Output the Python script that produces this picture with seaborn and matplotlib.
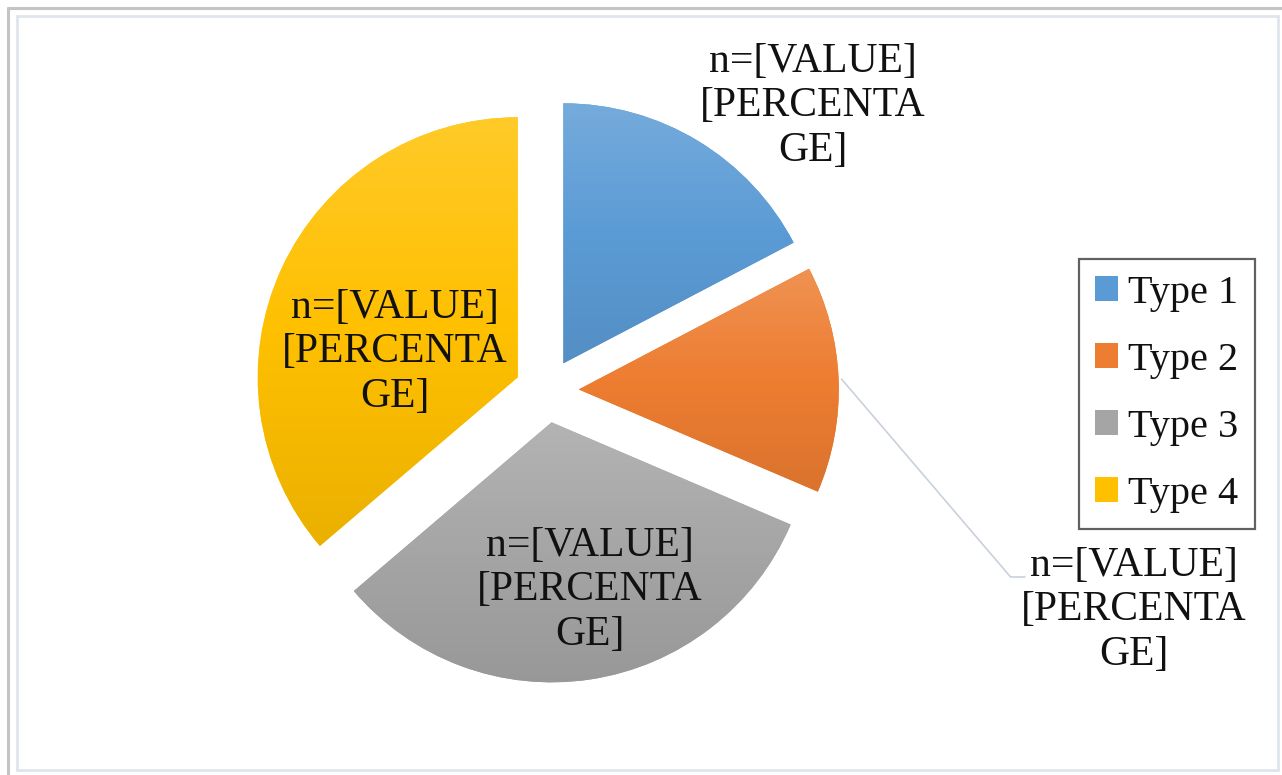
import numpy as np
import matplotlib
matplotlib.use("Agg")
import matplotlib.pyplot as plt
import matplotlib.colors as mcolors
from matplotlib.lines import Line2D
from matplotlib.patches import Rectangle
import seaborn as sns

# ---------------- data ----------------
categories = ["Type 1", "Type 2", "Type 3", "Type 4"]
shares = [17.3, 14.1, 32.3, 36.2]          # percent of the pie
label_text = "n=[VALUE]\n[PERCENTA\nGE]"
base_colors = ["#5B9BD5", "#ED7D31", "#A5A5A5", "#FFC000"]

# ---------------- layout (pixels) ----------------
W, H = 1282, 775
def Y(py):
    return H - py

pie_center = (546.8, Y(390.7))
pie_radius = 260
explode_px = 32
label_pos = [(813, Y(106)), (1134, Y(610)), (590, Y(590)), (395, Y(352))]
leader_start = (1025, Y(577))

sns.set_theme(style="white")
plt.rcParams["font.family"] = ["Liberation Serif", "DejaVu Serif"]

fig = plt.figure(figsize=(W / 100, H / 100), dpi=100)
fig.patch.set_facecolor("white")
ax = fig.add_axes([0, 0, 1, 1])

wedges, _ = ax.pie(
    shares,
    startangle=90,
    counterclock=False,
    radius=pie_radius,
    center=pie_center,
    explode=[explode_px] * len(shares),
    colors=base_colors,
    wedgeprops=dict(linewidth=0, edgecolor="none"),
)

# Excel-like vertical gradient per slice
def shade(c, f):
    r, g, b = mcolors.to_rgb(c)
    if f >= 0:
        return (r + (1 - r) * f, g + (1 - g) * f, b + (1 - b) * f)
    return (r * (1 + f), g * (1 + f), b * (1 + f))

for w, c in zip(wedges, base_colors):
    verts = w.get_path().vertices
    xmin, ymin = verts.min(axis=0)
    xmax, ymax = verts.max(axis=0)
    top, mid, bot = np.array(shade(c, 0.16)), np.array(mcolors.to_rgb(c)), np.array(shade(c, -0.08))
    t = np.linspace(0, 1, 256)[:, None]
    grad = np.where(t < 0.5, top + (mid - top) * (t / 0.5), mid + (bot - mid) * ((t - 0.5) / 0.5))
    img = ax.imshow(grad[:, None, :], extent=[xmin, xmax, ymin, ymax], origin="upper",
                    aspect="auto", interpolation="bilinear", zorder=w.get_zorder() + 0.1)
    img.set_clip_path(w)

# data labels
for (lx, ly) in label_pos:
    ax.text(lx, ly, label_text, ha="center", va="center", fontsize=30,
            color="#111111", linespacing=1.2, zorder=5, multialignment="center")

# leader line for Type 2 label
w2 = wedges[1]
thm = np.deg2rad(0.5 * (w2.theta1 + w2.theta2))
anchor = (w2.center[0] + (w2.r + 3) * np.cos(thm), w2.center[1] + (w2.r + 3) * np.sin(thm))
ax.annotate("", xy=anchor, xytext=leader_start,
            arrowprops=dict(arrowstyle="-", color="#C9D1DC", lw=1.2,
                            connectionstyle="angle,angleA=0,angleB=130.5,rad=0",
                            shrinkA=0, shrinkB=0), zorder=4)

# legend
leg = ax.legend(wedges, categories, loc="upper left",
                bbox_to_anchor=(1079 / W, 1 - 259 / H), bbox_transform=fig.transFigure,
                fontsize=29, frameon=True, fancybox=False, shadow=False,
                handlelength=0.57, handleheight=0.57, handletextpad=0.25,
                labelspacing=0.74, borderpad=0.4, borderaxespad=0)
leg.get_frame().set_edgecolor("#3A3A3A")
leg.get_frame().set_linewidth(1.6)
for txt in leg.get_texts():
    txt.set_color("#111111")

# frames
ax.add_patch(Rectangle((17, Y(770)), 1278 - 17, 770 - 16, fill=False,
                       edgecolor="#E0E5EC", lw=2, zorder=0))
ax.add_line(Line2D([8, 8], [0, Y(8)], color="#C4C4C4", lw=2.2))
ax.add_line(Line2D([8, W], [Y(8), Y(8)], color="#C4C4C4", lw=2.2))

ax.set_xlim(0, W)
ax.set_ylim(0, H)
ax.set_aspect("auto")
ax.axis("off")

fig.savefig("out.png", dpi=100, facecolor="white")
